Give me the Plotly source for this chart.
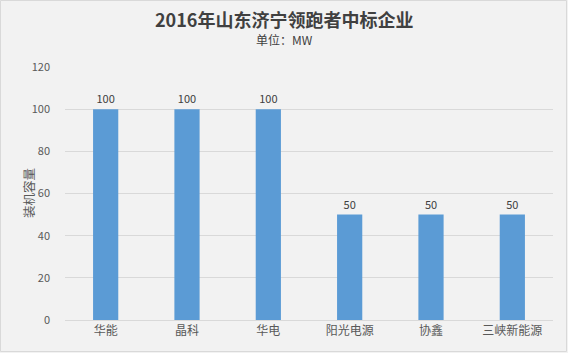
import plotly.graph_objects as go

categories = ["华能", "晶科", "华电", "阳光电源", "协鑫", "三峡新能源"]
values = [100, 100, 100, 50, 50, 50]
y_ticks = [0, 20, 40, 60, 80, 100, 120]

font_family = "Microsoft YaHei, Noto Sans CJK SC, sans-serif"

W, H = 568, 353
ML, MR, MT, MB = 65, 15, 67, 33
PW, PH = W - ML - MR, H - MT - MB

def px_x(x):
    return (x - ML) / PW

def px_y(y):
    return (H - MB - y) / PH

fig = go.Figure()
fig.add_trace(go.Bar(
    x=categories, y=values,
    marker=dict(color="#5b9bd5", line=dict(width=0)),
    width=0.31,
    text=[str(v) for v in values],
    textposition="outside",
    textfont=dict(size=11, color="#404040", family=font_family),
    cliponaxis=False,
))

fig.update_layout(
    width=W, height=H,
    paper_bgcolor="#f2f2f2", plot_bgcolor="#f2f2f2",
    margin=dict(l=ML, r=MR, t=MT, b=MB),
    showlegend=False,
    font=dict(family=font_family, color="#595959"),
    xaxis=dict(
        showgrid=False, showline=True, linecolor="#d9d9d9", linewidth=1,
        ticks="", tickfont=dict(size=12, color="#595959"),
    ),
    yaxis=dict(
        range=[0, 120], tickvals=y_ticks, showgrid=True, gridcolor="#d9d9d9",
        gridwidth=1, zeroline=False, showline=False, ticks="",
        ticklabelstandoff=14,
        tickfont=dict(size=11, color="#595959"),
    ),
    annotations=[
        dict(text="<b>2016年山东济宁领跑者中标企业</b>", xref="paper", yref="paper",
             x=px_x(W / 2), y=px_y(19), xanchor="center", yanchor="middle",
             showarrow=False, font=dict(size=18, color="#404040", family=font_family)),
        dict(text="单位：MW", xref="paper", yref="paper",
             x=px_x(W / 2), y=px_y(40), xanchor="center", yanchor="middle",
             showarrow=False, font=dict(size=12, color="#404040", family=font_family)),
        dict(text="装机容量", xref="paper", yref="paper",
             x=px_x(28), y=px_y(193), xanchor="center", yanchor="middle",
             textangle=-90, showarrow=False,
             font=dict(size=12.5, color="#595959", family=font_family)),
    ],
    shapes=[dict(type="rect", xref="paper", yref="paper",
                 x0=px_x(0.5), x1=px_x(W - 1.5), y0=px_y(H - 1.5), y1=px_y(0.5),
                 line=dict(color="#d9d9d9", width=1), fillcolor="rgba(0,0,0,0)",
                 layer="above")],
)

fig.write_html("out.html")
